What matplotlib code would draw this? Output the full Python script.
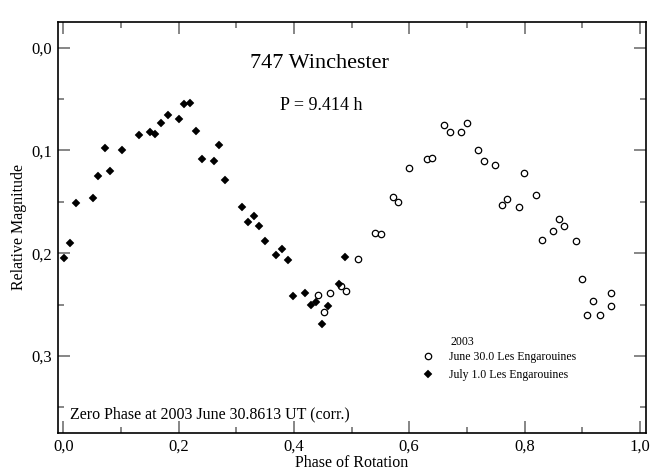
import matplotlib
matplotlib.use("Agg")
import matplotlib.pyplot as plt
from matplotlib.ticker import MultipleLocator, FixedLocator, FixedFormatter
from matplotlib.lines import Line2D

plt.rcParams['font.family'] = ['Liberation Serif', 'DejaVu Serif']

# July 1.0 Les Engarouines (filled diamonds)
july_phase = [0.002, 0.012, 0.022, 0.051, 0.061, 0.072, 0.082, 0.102, 0.131, 0.150,
              0.160, 0.170, 0.181, 0.201, 0.210, 0.220, 0.231, 0.240, 0.261, 0.270,
              0.281, 0.310, 0.320, 0.331, 0.340, 0.350, 0.369, 0.379, 0.389, 0.399,
              0.419, 0.429, 0.439, 0.449, 0.459, 0.479, 0.489]
july_mag = [0.205, 0.190, 0.151, 0.146, 0.125, 0.098, 0.120, 0.100, 0.085, 0.082,
            0.084, 0.073, 0.066, 0.069, 0.055, 0.054, 0.081, 0.108, 0.110, 0.095,
            0.129, 0.155, 0.170, 0.164, 0.174, 0.188, 0.202, 0.196, 0.207, 0.242,
            0.239, 0.250, 0.248, 0.269, 0.251, 0.230, 0.204]

# June 30.0 Les Engarouines (open circles)
june_phase = [0.442, 0.452, 0.462, 0.481, 0.491, 0.511, 0.541, 0.551, 0.571, 0.581,
              0.600, 0.630, 0.640, 0.660, 0.670, 0.690, 0.700, 0.719, 0.730, 0.749,
              0.760, 0.770, 0.790, 0.799, 0.820, 0.830, 0.849, 0.859, 0.869, 0.889,
              0.900, 0.909, 0.919, 0.930, 0.949, 0.949]
june_mag = [0.241, 0.257, 0.239, 0.232, 0.237, 0.206, 0.180, 0.181, 0.145, 0.150,
            0.117, 0.108, 0.107, 0.075, 0.082, 0.082, 0.073, 0.100, 0.110, 0.114,
            0.153, 0.147, 0.155, 0.122, 0.143, 0.187, 0.178, 0.167, 0.174, 0.188,
            0.225, 0.260, 0.247, 0.260, 0.239, 0.251]

x_ticks = [0.0, 0.2, 0.4, 0.6, 0.8, 1.0]
x_tick_labels = ["0,0", "0,2", "0,4", "0,6", "0,8", "1,0"]
y_ticks = [0.0, 0.1, 0.2, 0.3]
y_tick_labels = ["0,0", "0,1", "0,2", "0,3"]

title_text = "747 Winchester"
period_text = "P = 9.414 h"
zero_text = "Zero Phase at 2003 June 30.8613 UT (corr.)"
legend_year = "2003"
label_june = "June 30.0 Les Engarouines"
label_july = "July 1.0 Les Engarouines"

fig = plt.figure(figsize=(6.51, 4.71), dpi=100)
ax = fig.add_axes([0.0891, 0.0807, 0.9032, 0.8726])

ax.plot(june_phase, june_mag, linestyle='none', marker='o', ms=4.6,
        mfc='white', mec='black', mew=0.9, zorder=3)
ax.plot(july_phase, july_mag, linestyle='none', marker='D', ms=3.6,
        mfc='black', mec='black', mew=0.3, zorder=4)

ax.set_xlim(-0.009, 1.0105)
ax.set_ylim(0.375, -0.025)

ax.xaxis.set_major_locator(FixedLocator(x_ticks))
ax.xaxis.set_major_formatter(FixedFormatter(x_tick_labels))
ax.xaxis.set_minor_locator(MultipleLocator(0.1))
ax.yaxis.set_major_locator(FixedLocator(y_ticks))
ax.yaxis.set_major_formatter(FixedFormatter(y_tick_labels))
ax.yaxis.set_minor_locator(MultipleLocator(0.05))

ax.tick_params(which='both', direction='in', top=True, right=True,
               color='#666666', width=1.1, labelsize=12, pad=4)
ax.tick_params(which='major', length=8.6)
ax.tick_params(which='minor', length=4.3)
for s in ax.spines.values():
    s.set_linewidth(1.2)

ax.set_xlabel("Phase of Rotation", fontsize=11.5)
ax.set_ylabel("Relative Magnitude", fontsize=11.5)
ax.xaxis.set_label_coords(0.5, -0.054)
ax.yaxis.set_label_coords(-0.052, 0.5)

ax.text(0.445, 0.015, title_text, fontsize=16, ha='center', va='center')
ax.text(0.447, 0.056, period_text, fontsize=13, ha='center', va='center')
ax.text(0.012, 0.357, zero_text, fontsize=11.5, ha='left', va='center')
ax.text(0.693, 0.286, legend_year, fontsize=8.5, ha='center', va='center')

handles = [Line2D([], [], linestyle='none', marker='o', ms=4.6, mfc='white',
                  mec='black', mew=0.9),
           Line2D([], [], linestyle='none', marker='D', ms=3.6, mfc='black',
                  mec='black', mew=0.3)]
ax.legend(handles, [label_june, label_july], loc='center left',
          bbox_to_anchor=(0.62, 0.163), frameon=False, fontsize=8.5,
          handlelength=1.0, handletextpad=1.2, labelspacing=0.5,
          borderpad=0.0, borderaxespad=0.0)

fig.savefig("out.png", dpi=100)
